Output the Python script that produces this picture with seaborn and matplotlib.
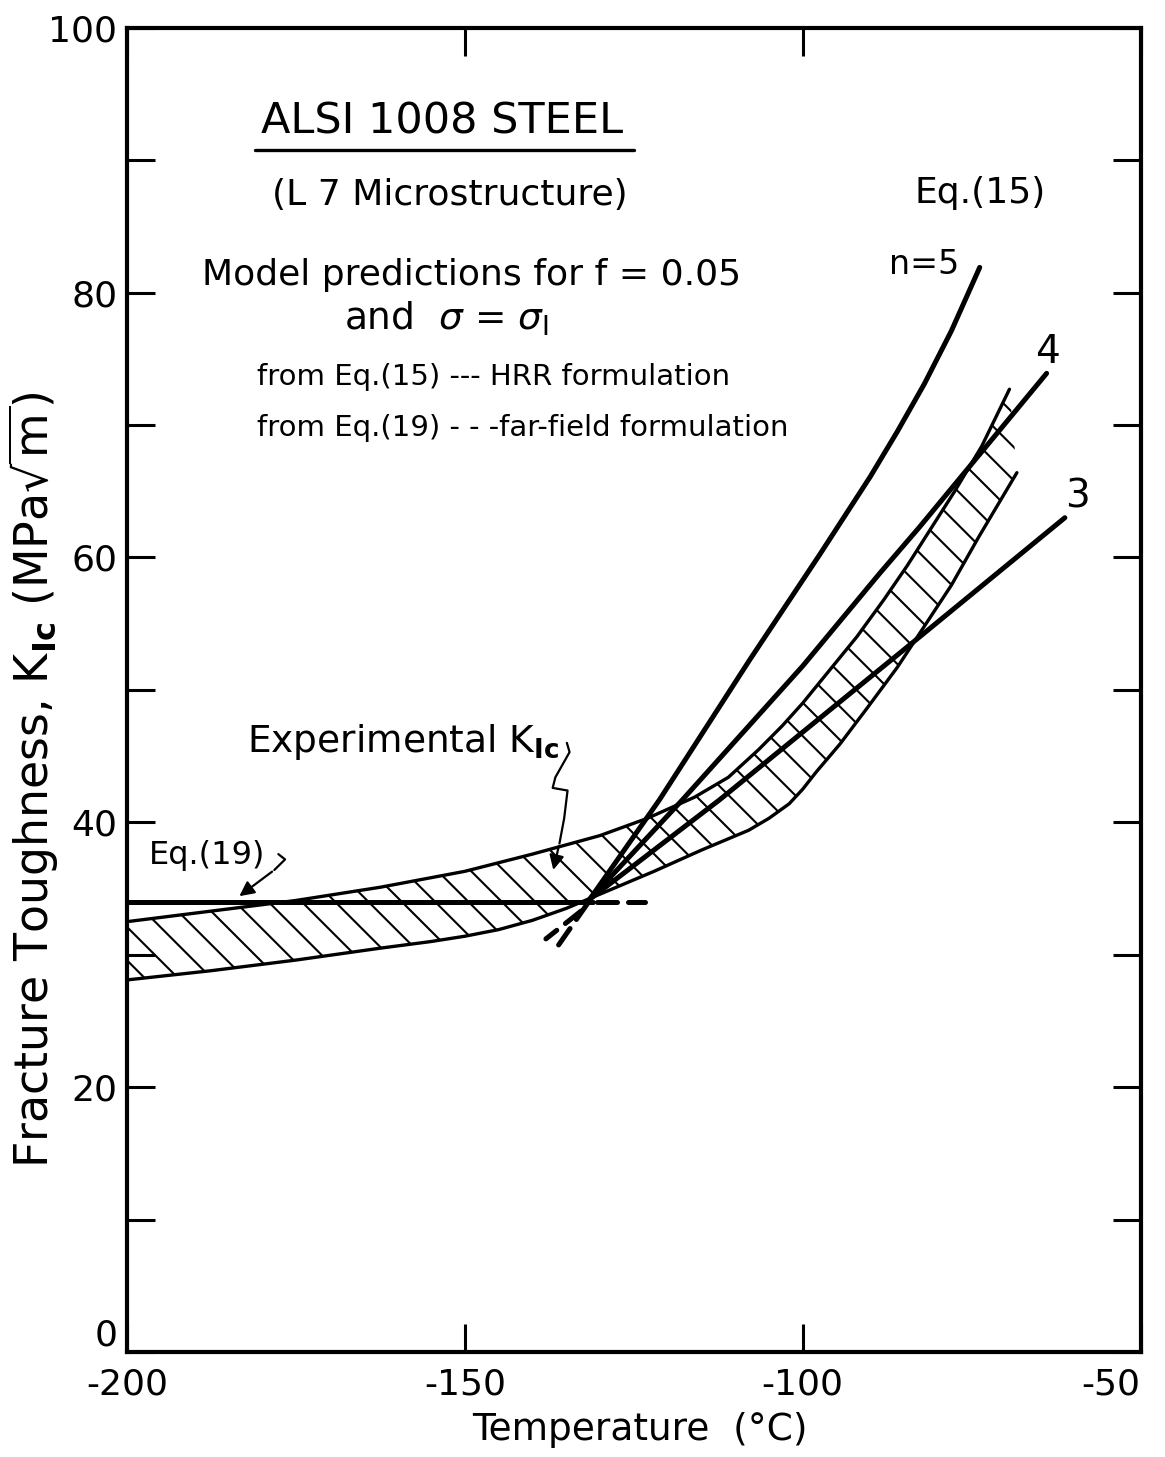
import numpy as np
import pandas as pd
import matplotlib
matplotlib.use("Agg")
import matplotlib.pyplot as plt
import seaborn as sns

# ---------------- data ----------------
# Experimental K_Ic scatter band (hatched)
band_upper_T = [-200, -187.5, -175, -162.5, -150, -140, -130, -123, -116, -111,
                -106.5, -103, -100, -96, -92, -88, -84.5, -81, -77.5, -73.5, -69.4]
band_upper_K = [32.5, 33.3, 34.1, 35.1, 36.3, 37.6, 39.0, 40.3, 41.9, 43.4,
                45.5, 47.3, 49.0, 51.5, 54.0, 56.8, 59.4, 62.2, 65.0, 68.4, 72.7]
band_lower_T = [-200, -187.5, -175, -162.5, -155, -150, -145, -140, -135, -128.5,
                -122, -115, -108, -105, -102, -100, -98, -94.5, -90.5, -86, -82,
                -78, -74, -68.3]
band_lower_K = [28.1, 28.8, 29.6, 30.5, 31.0, 31.4, 31.9, 32.6, 33.5, 34.9,
                36.3, 37.9, 39.4, 40.3, 41.4, 42.5, 43.8, 45.9, 48.6, 51.7, 54.8,
                57.9, 61.5, 66.4]

# Eq.(15) HRR predictions, n = 5, 4, 3
n5_T = [-131.5, -121.2, -107.8, -97.5, -90.0, -86.0, -82.0, -78.0, -73.8]
n5_K = [34.2, 41.7, 52.3, 60.2, 66.1, 69.5, 73.1, 77.1, 81.9]
n4_T = [-131.5, -117.8, -100.0, -88.6, -82.7, -63.9]
n4_K = [34.2, 41.7, 51.8, 58.8, 62.3, 73.9]
n3_T = [-131.5, -112.3, -82.7, -61.2]
n3_K = [34.2, 41.7, 54.0, 63.0]
# dashed extrapolations below the crossing point
ext1_T = [-131.8, -137.0]
ext1_K = [33.9, 30.1]
ext2_T = [-132.8, -138.0]
ext2_K = [33.3, 31.2]

# Eq.(19) far-field prediction (solid then dashed)
eq19_T = [-200, -131.0]
eq19_K = [34.0, 34.0]
eq19d_T = [-130.5, -123.4]
eq19d_K = [34.0, 34.0]

x_ticks = [-200, -150, -100, -50]
y_ticks = [0, 20, 40, 60, 80, 100]
y_minor = [10, 30, 50, 70, 90]

# ---------------- style ----------------
sns.set_theme(style="ticks")
plt.rcParams["font.family"] = ["DejaVu Sans"]
plt.rcParams["mathtext.fontset"] = "dejavusans"
plt.rcParams["hatch.linewidth"] = 1.5
plt.rcParams["hatch.color"] = "black"
for k in ["text.color", "axes.labelcolor", "xtick.color", "ytick.color", "axes.edgecolor"]:
    plt.rcParams[k] = "black"

fig = plt.figure(figsize=(11.65, 14.57), dpi=100)
ax = fig.add_axes([0.109, 0.072, 0.870, 0.909])

LW = 3.6
# band hatch
poly_T = band_upper_T + band_lower_T[::-1]
poly_K = band_upper_K + band_lower_K[::-1]
ax.fill(poly_T, poly_K, facecolor="none", edgecolor="black", hatch="\\",
        linewidth=0, zorder=1)
band_df_u = pd.DataFrame({"T": band_upper_T, "K": band_upper_K})
band_df_l = pd.DataFrame({"T": band_lower_T, "K": band_lower_K})
sns.lineplot(data=band_df_u, x="T", y="K", sort=False, color="black", lw=2.4, ax=ax, zorder=2)
sns.lineplot(data=band_df_l, x="T", y="K", sort=False, color="black", lw=2.4, ax=ax, zorder=2)

for T, K in [(n5_T, n5_K), (n4_T, n4_K), (n3_T, n3_K), (eq19_T, eq19_K)]:
    sns.lineplot(x=T, y=K, sort=False, color="black", lw=LW, ax=ax, zorder=3)
for T, K in [(ext1_T, ext1_K), (ext2_T, ext2_K), (eq19d_T, eq19d_K)]:
    ax.plot(T, K, color="black", lw=LW, ls=(0, (4, 2.2)),
            dash_capstyle="round", zorder=3)

# ---------------- axes ----------------
ax.set_xlim(-200, -50)
ax.set_ylim(0, 100)
ax.set_xticks(x_ticks)
ax.set_xticklabels([str(v) for v in x_ticks])
ax.set_yticks(y_ticks)
ax.set_yticklabels([str(v) for v in y_ticks])
ax.set_yticks(y_minor, minor=True)
ax.tick_params(axis="both", which="both", direction="in", length=20, width=2.2,
               top=True, right=True, labelsize=26, pad=7, color="black")
ax.tick_params(axis="x", which="both", pad=11)
xl = ax.get_xticklabels()
xl[-1].set_ha("right")
yl = ax.get_yticklabels()
yl[0].set_va("bottom")
for s in ax.spines.values():
    s.set_linewidth(3.0)
    s.set_color("black")
ax.set_xlabel("Temperature  (°C)", fontsize=27, va="center")
ax.xaxis.set_label_coords(0.506, -0.059)
ax.set_ylabel(r"Fracture Toughness, K$_{\mathbf{Ic}}$ (MPa$\sqrt{\mathrm{m}}$)",
              fontsize=33, va="center")
ax.yaxis.set_label_coords(-0.092, 0.432)

# ---------------- annotations ----------------
ax.text(-153.3, 92.9, "ALSI 1008 STEEL", fontsize=31, ha="center", va="center")
ax.plot([-181.1, -125.0], [90.8, 90.8], color="black", lw=2.4)
ax.text(-152.2, 87.4, "(L 7 Microstructure)", fontsize=26, ha="center", va="center")
ax.text(-149.0, 81.3, "Model predictions for f = 0.05", fontsize=26, ha="center", va="center")
ax.text(-152.7, 78.0, r"and  $\sigma$ = $\sigma_{\mathrm{I}}$", fontsize=27, ha="center", va="center")
ax.text(-180.8, 73.6, "from Eq.(15) --- HRR formulation", fontsize=21, ha="left", va="center")
ax.text(-180.8, 69.8, "from Eq.(19) - - -far-field formulation", fontsize=21, ha="left", va="center")
ax.text(-73.8, 87.5, "Eq.(15)", fontsize=26, ha="center", va="center")
ax.text(-82.0, 82.1, "n=5", fontsize=24, ha="center", va="center")
ax.text(-63.8, 75.5, "4", fontsize=28, ha="center", va="center")
ax.text(-59.3, 64.6, "3", fontsize=28, ha="center", va="center")
ax.text(-188.2, 37.5, "Eq.(19)", fontsize=23, ha="center", va="center")
ax.text(-182.2, 46.1, r"Experimental K$_{\mathbf{Ic}}$", fontsize=27, ha="left", va="center")

# pointer squiggles
sq1_T = [-177.6, -176.6, -178.2]
sq1_K = [37.6, 37.2, 36.4]
ax.plot(sq1_T, sq1_K, color="black", lw=1.6)
ax.annotate("", xy=(-183.7, 34.3), xytext=(-178.2, 36.4),
            arrowprops=dict(arrowstyle="-|>", color="black", lw=1.6, mutation_scale=22))
sq2_T = [-134.9, -134.5, -136.6, -137.0, -134.8, -135.3, -136.0]
sq2_K = [46.0, 45.3, 43.4, 42.6, 42.4, 40.3, 38.4]
ax.plot(sq2_T, sq2_K, color="black", lw=1.6)
ax.annotate("", xy=(-137.0, 36.2), xytext=(-136.0, 38.4),
            arrowprops=dict(arrowstyle="-|>", color="black", lw=1.6, mutation_scale=22))

fig.savefig("out.png", dpi=100, facecolor="white")
